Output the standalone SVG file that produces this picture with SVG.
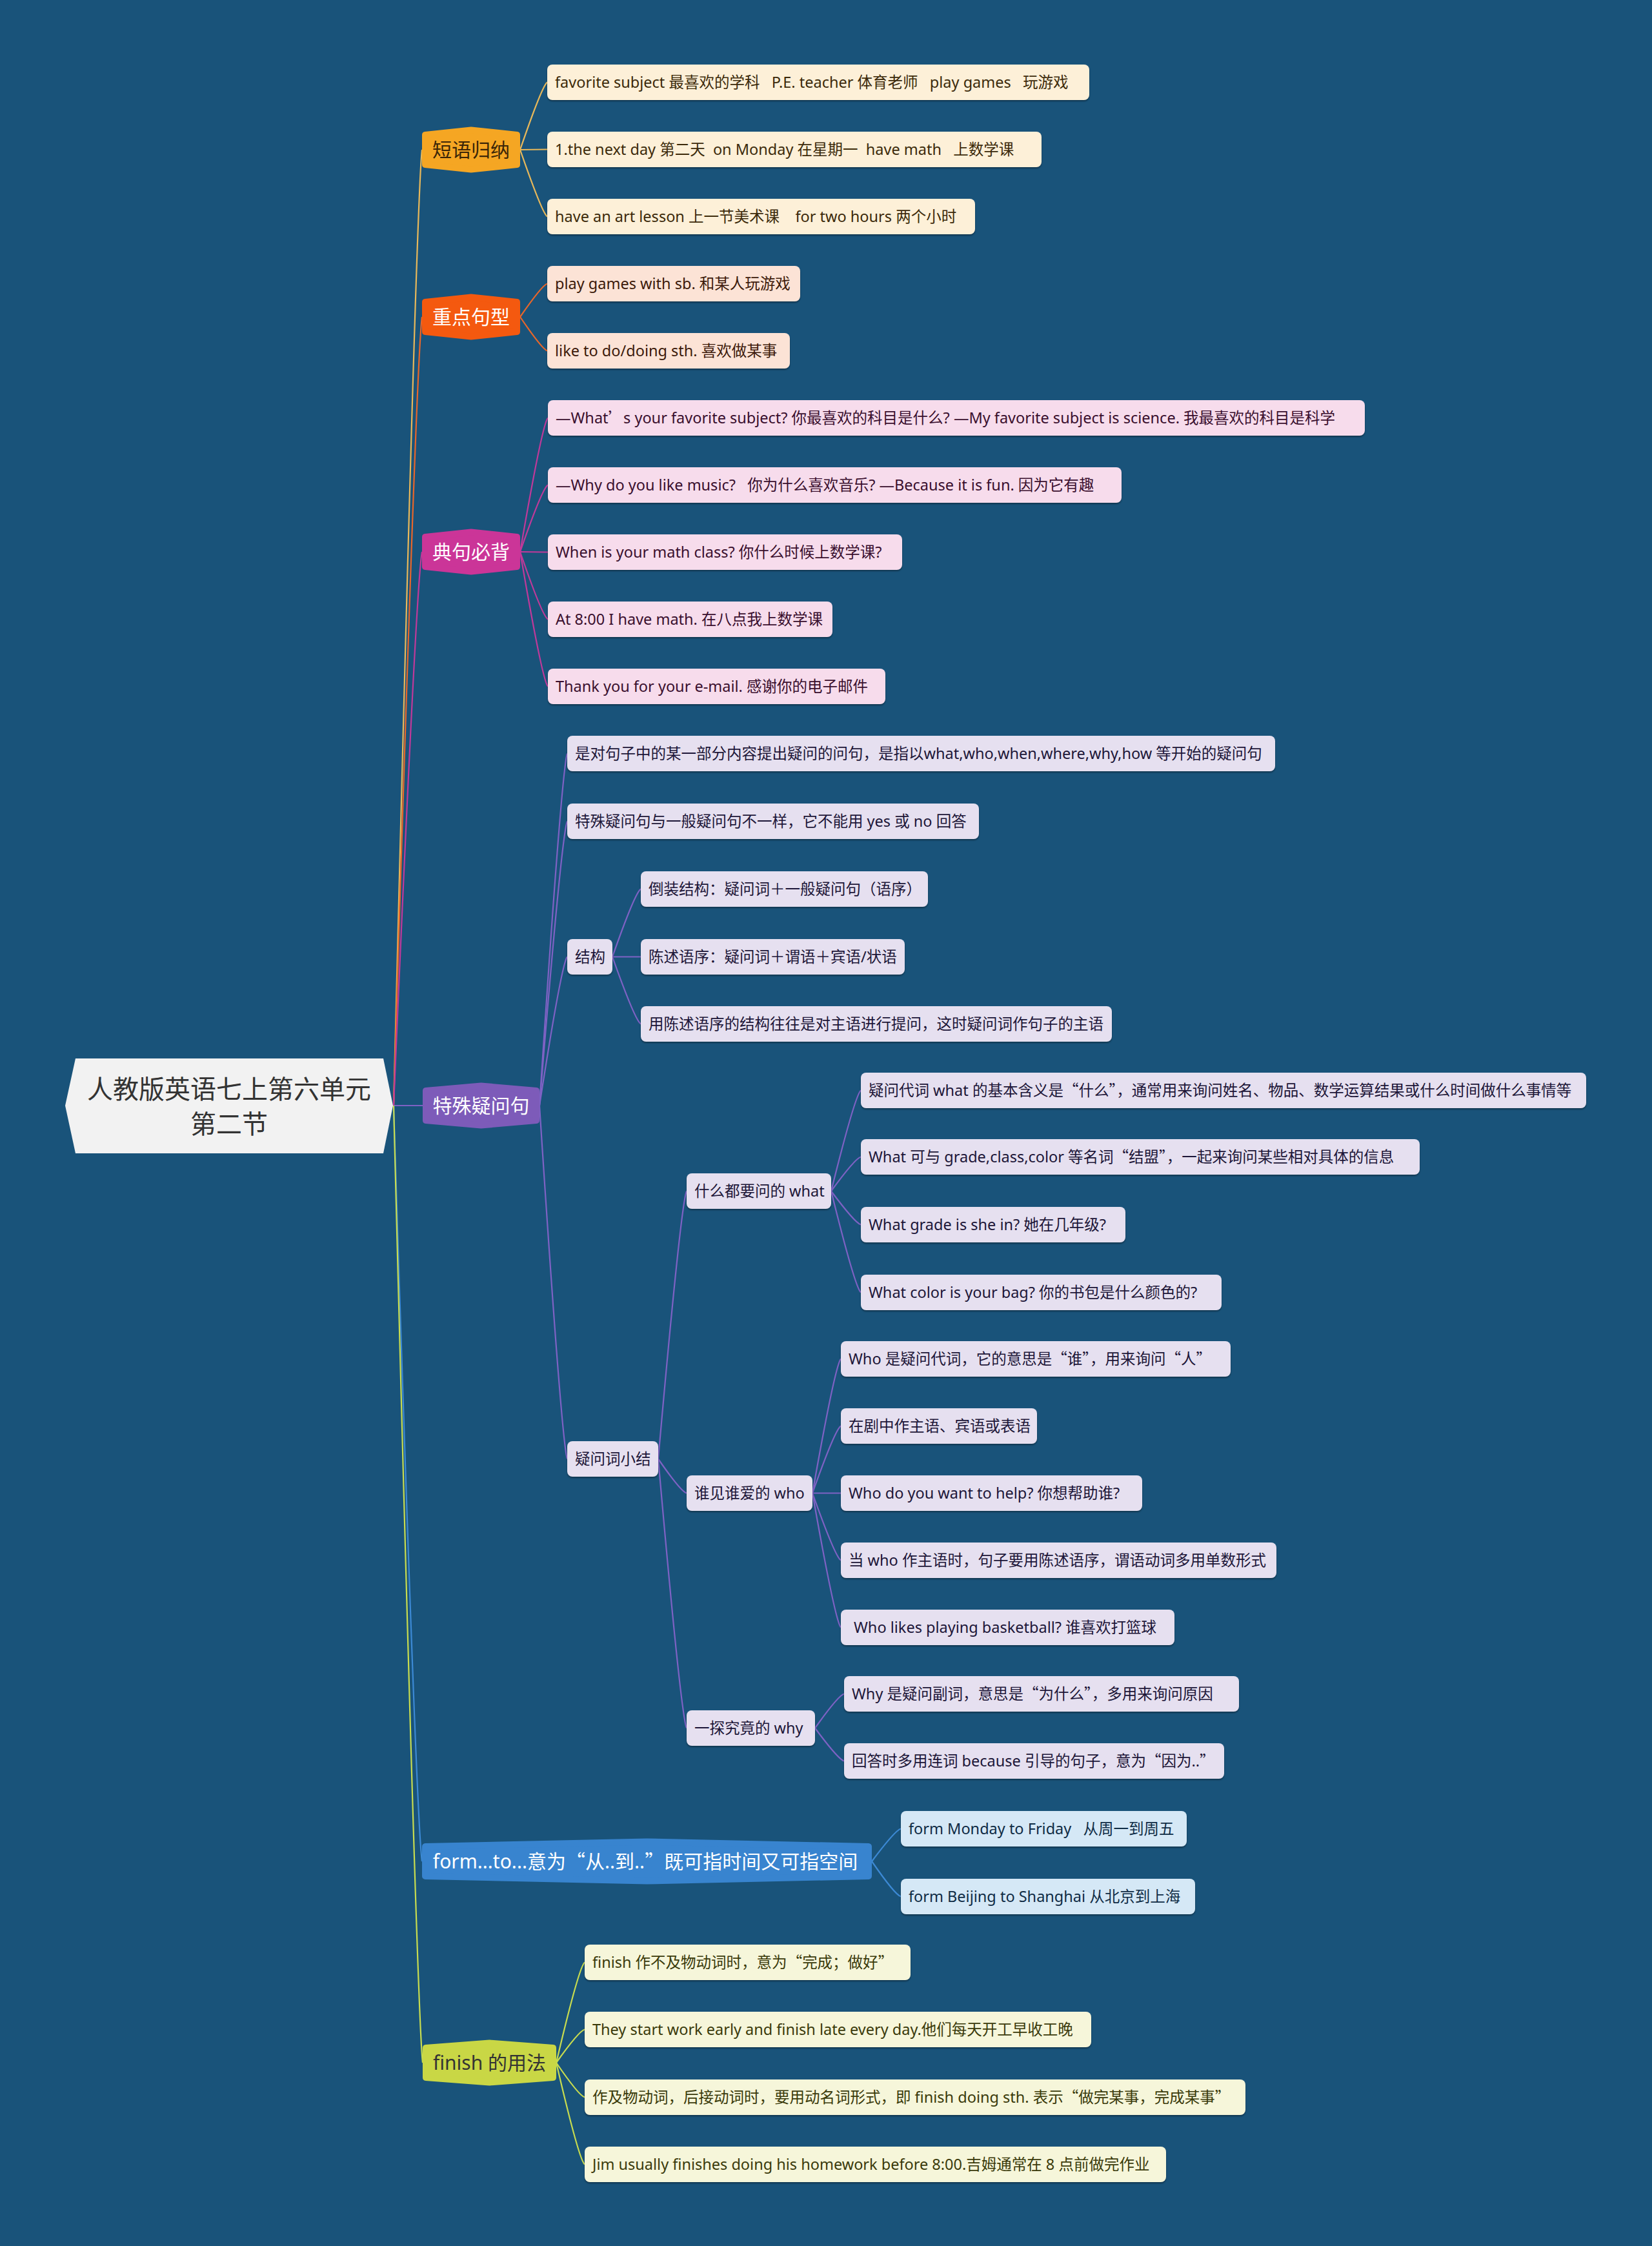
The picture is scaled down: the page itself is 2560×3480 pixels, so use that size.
<svg xmlns="http://www.w3.org/2000/svg" width="2560" height="3480" viewBox="0 0 2560 3480">
<style>
text{font-family:"Noto Sans","Noto Sans CJK SC",sans-serif;white-space:pre}
.q{font-family:"Noto Sans CJK SC",sans-serif}
.lf{font-size:23.5px}
.hx{font-size:30px;text-anchor:middle}
.bx{filter:drop-shadow(0 2px 1px rgba(0,0,0,0.35))}
.c path{fill:none;stroke-width:2.2}
.k1{stroke:#E8B85A}.k2{stroke:#E8662A}.k3{stroke:#C0399A}.k4{stroke:#7E62C4}.k5{stroke:#3C89D4}.k6{stroke:#C8DC4F}
.f1{fill:#FDF0D8}.f2{fill:#FCE3D6}.f3{fill:#F7DCEC}.f4{fill:#E6E0F0}.f5{fill:#D5E8F6}.f6{fill:#F6F6DA}
.t1{fill:#3c2a0a}.t2{fill:#3c1a0a}.t3{fill:#3a0f2e}.t4{fill:#1d1638}.t5{fill:#0f2c45}.t6{fill:#3a3a0a}
.h{stroke-width:10;stroke-linejoin:round}
</style>
<rect width="2560" height="3480" fill="#19537a"/>
<g id="connectors" class="c">
<path class="k1" d="M610,1713 Q645,306 654,232"/>
<path class="k2" d="M610,1713 Q645,552 654,491"/>
<path class="k3" d="M610,1713 Q645,898 654,855"/>
<path class="k4" d="M610,1713 L655,1713"/>
<path class="k5" d="M610,1713 Q645,2826 654,2884"/>
<path class="k6" d="M610,1713 Q646,3122 655,3196"/>
<path class="k1" d="M806,232 Q840,133 848,127.5"/>
<path class="k1" d="M806,232 L848,231.5"/>
<path class="k1" d="M806,232 Q840,330 848,335.5"/>
<path class="k2" d="M806,491 Q840,442 848,439.5"/>
<path class="k2" d="M806,491 Q840,541 848,543.5"/>
<path class="k3" d="M806,855 Q840,658 849,647.5"/>
<path class="k3" d="M806,855 Q840,757 849,751.5"/>
<path class="k3" d="M806,855 L849,855.5"/>
<path class="k3" d="M806,855 Q840,954 849,959.5"/>
<path class="k3" d="M806,855 Q840,1053 849,1063.5"/>
<path class="k4" d="M836,1713 Q870,1195 879,1167.5"/>
<path class="k4" d="M836,1713 Q870,1295 879,1272.5"/>
<path class="k4" d="M836,1713 Q870,1494 879,1482.5"/>
<path class="k4" d="M836,1713 Q870,2233 879,2260.5"/>
<path class="k4" d="M949,1482.5 Q984,1383 993,1377.5"/>
<path class="k4" d="M949,1482.5 L993,1482.5"/>
<path class="k4" d="M949,1482.5 Q984,1581 993,1586.5"/>
<path class="k4" d="M1020,2260.5 Q1055,1866 1064,1845.5"/>
<path class="k4" d="M1020,2260.5 Q1055,2311 1064,2313.5"/>
<path class="k4" d="M1020,2260.5 Q1055,2657 1064,2677.5"/>
<path class="k4" d="M1288,1845.5 Q1325,1697 1334,1689.5"/>
<path class="k4" d="M1288,1845.5 Q1325,1795 1334,1792.5"/>
<path class="k4" d="M1288,1845.5 Q1325,1895 1334,1897.5"/>
<path class="k4" d="M1288,1845.5 Q1325,1995 1334,2002.5"/>
<path class="k4" d="M1259,2313.5 Q1294,2116 1303,2105.5"/>
<path class="k4" d="M1259,2313.5 Q1294,2215 1303,2209.5"/>
<path class="k4" d="M1259,2313.5 L1303,2313.5"/>
<path class="k4" d="M1259,2313.5 Q1294,2412 1303,2417.5"/>
<path class="k4" d="M1259,2313.5 Q1294,2511 1303,2521.5"/>
<path class="k4" d="M1263,2677.5 Q1299,2627 1308,2624.5"/>
<path class="k4" d="M1263,2677.5 Q1299,2726 1308,2728.5"/>
<path class="k5" d="M1351,2884 Q1387,2836 1396,2833.5"/>
<path class="k5" d="M1351,2884 Q1387,2936 1396,2938.5"/>
<path class="k6" d="M862,3196 Q897,3048 906,3040.5"/>
<path class="k6" d="M862,3196 Q897,3147 906,3144.5"/>
<path class="k6" d="M862,3196 Q897,3247 906,3249.5"/>
<path class="k6" d="M862,3196 Q897,3346 906,3353.5"/>
</g>
<g id="root">
<path d="M117,1640 L594,1640 L609,1713 L594,1787 L117,1787 L101,1713 Z" fill="#F2F2F2"/>
<text x="355" y="1702" font-size="40" text-anchor="middle" fill="#333">人教版英语七上第六单元</text>
<text x="355" y="1756" font-size="40" text-anchor="middle" fill="#333">第二节</text>
</g>
<g id="b-duanyu">
<path class="h" d="M659,209 L730,201.5 L801,209 L801,255 L730,262.5 L659,255 Z" fill="#F5A623" stroke="#F5A623"/>
<text class="hx" x="730" y="242.5" fill="#3a2508">短语归纳</text>
</g>
<g id="b-zhongdian">
<path class="h" d="M659,468 L730,460.5 L801,468 L801,514 L730,521.5 L659,514 Z" fill="#F4590F" stroke="#F4590F"/>
<text class="hx" x="730" y="501.5" fill="#fff">重点句型</text>
</g>
<g id="b-dianju">
<path class="h" d="M659,832 L730,824.5 L801,832 L801,878 L730,885.5 L659,878 Z" fill="#CB3598" stroke="#CB3598"/>
<text class="hx" x="730" y="865.5" fill="#fff">典句必背</text>
</g>
<g id="b-teshu">
<path class="h" d="M660,1690 L745.5,1682.5 L831,1690 L831,1736 L745.5,1743.5 L660,1736 Z" fill="#7D5BB9" stroke="#7D5BB9"/>
<text class="hx" x="745.5" y="1723.5" fill="#fff">特殊疑问句</text>
</g>
<g id="b-form">
<path class="h" d="M659,2861 L1002.5,2853.5 L1346,2861 L1346,2907 L1002.5,2914.5 L659,2907 Z" fill="#3884CF" stroke="#3884CF"/>
<text class="hx" x="1000" y="2894.5" fill="#fff">form...to...意为<tspan class="q">“</tspan>从..到..<tspan class="q">”</tspan>既可指时间又可指空间</text>
</g>
<g id="b-finish">
<path class="h" d="M660,3173 L758.5,3165.5 L857,3173 L857,3219 L758.5,3226.5 L660,3219 Z" fill="#C9D745" stroke="#C9D745"/>
<text class="hx" x="758.5" y="3206.5" fill="#333">finish 的用法</text>
</g>
<g id="n1a"><rect class="bx f1" x="848" y="100" width="840" height="55" rx="8"/><text class="lf t1" x="860" y="136">favorite subject 最喜欢的学科   P.E. teacher 体育老师   play games   玩游戏</text></g>
<g id="n1b"><rect class="bx f1" x="848" y="204" width="766" height="55" rx="8"/><text class="lf t1" x="860" y="240">1.the next day 第二天  on Monday 在星期一  have math   上数学课</text></g>
<g id="n1c"><rect class="bx f1" x="848" y="308" width="663" height="55" rx="8"/><text class="lf t1" x="860" y="344">have an art lesson 上一节美术课    for two hours 两个小时</text></g>
<g id="n2a"><rect class="bx f2" x="848" y="412" width="392" height="55" rx="8"/><text class="lf t2" x="860" y="448">play games with sb. 和某人玩游戏</text></g>
<g id="n2b"><rect class="bx f2" x="848" y="516" width="376" height="55" rx="8"/><text class="lf t2" x="860" y="552">like to do/doing sth. 喜欢做某事</text></g>
<g id="n3a"><rect class="bx f3" x="849" y="620" width="1266" height="55" rx="8"/><text class="lf t3" x="861" y="656">—What<tspan class="q">’</tspan>s your favorite subject? 你最喜欢的科目是什么? —My favorite subject is science. 我最喜欢的科目是科学</text></g>
<g id="n3b"><rect class="bx f3" x="849" y="724" width="889" height="55" rx="8"/><text class="lf t3" x="861" y="760">—Why do you like music?   你为什么喜欢音乐? —Because it is fun. 因为它有趣</text></g>
<g id="n3c"><rect class="bx f3" x="849" y="828" width="549" height="55" rx="8"/><text class="lf t3" x="861" y="864">When is your math class? 你什么时候上数学课?</text></g>
<g id="n3d"><rect class="bx f3" x="849" y="932" width="441" height="55" rx="8"/><text class="lf t3" x="861" y="968">At 8:00 I have math. 在八点我上数学课</text></g>
<g id="n3e"><rect class="bx f3" x="849" y="1036" width="523" height="55" rx="8"/><text class="lf t3" x="861" y="1072">Thank you for your e-mail. 感谢你的电子邮件</text></g>
<g id="n4a"><rect class="bx f4" x="879" y="1140" width="1097" height="55" rx="8"/><text class="lf t4" x="891" y="1176">是对句子中的某一部分内容提出疑问的问句，是指以what,who,when,where,why,how 等开始的疑问句</text></g>
<g id="n4b"><rect class="bx f4" x="879" y="1245" width="638" height="55" rx="8"/><text class="lf t4" x="891" y="1281">特殊疑问句与一般疑问句不一样，它不能用 yes 或 no 回答</text></g>
<g id="n4c"><rect class="bx f4" x="879" y="1455" width="70" height="55" rx="8"/><text class="lf t4" x="891" y="1491">结构</text></g>
<g id="n4c1"><rect class="bx f4" x="993" y="1350" width="445" height="55" rx="8"/><text class="lf t4" x="1005" y="1386">倒装结构：疑问词＋一般疑问句（语序）</text></g>
<g id="n4c2"><rect class="bx f4" x="993" y="1455" width="409" height="55" rx="8"/><text class="lf t4" x="1005" y="1491">陈述语序：疑问词＋谓语＋宾语/状语</text></g>
<g id="n4c3"><rect class="bx f4" x="993" y="1559" width="730" height="55" rx="8"/><text class="lf t4" x="1005" y="1595">用陈述语序的结构往往是对主语进行提问，这时疑问词作句子的主语</text></g>
<g id="n4d"><rect class="bx f4" x="879" y="2233" width="141" height="55" rx="8"/><text class="lf t4" x="891" y="2269">疑问词小结</text></g>
<g id="n-what"><rect class="bx f4" x="1064" y="1818" width="224" height="55" rx="8"/><text class="lf t4" x="1076" y="1854">什么都要问的 what</text></g>
<g id="n-w1"><rect class="bx f4" x="1334" y="1662" width="1124" height="55" rx="8"/><text class="lf t4" x="1346" y="1698">疑问代词 what 的基本含义是<tspan class="q">“</tspan>什么<tspan class="q">”</tspan>，通常用来询问姓名、物品、数学运算结果或什么时间做什么事情等</text></g>
<g id="n-w2"><rect class="bx f4" x="1334" y="1765" width="866" height="55" rx="8"/><text class="lf t4" x="1346" y="1801">What 可与 grade,class,color 等名词<tspan class="q">“</tspan>结盟<tspan class="q">”</tspan>，一起来询问某些相对具体的信息</text></g>
<g id="n-w3"><rect class="bx f4" x="1334" y="1870" width="410" height="55" rx="8"/><text class="lf t4" x="1346" y="1906">What grade is she in? 她在几年级?</text></g>
<g id="n-w4"><rect class="bx f4" x="1334" y="1975" width="559" height="55" rx="8"/><text class="lf t4" x="1346" y="2011">What color is your bag? 你的书包是什么颜色的?</text></g>
<g id="n-who"><rect class="bx f4" x="1064" y="2286" width="195" height="55" rx="8"/><text class="lf t4" x="1076" y="2322">谁见谁爱的 who</text></g>
<g id="n-o1"><rect class="bx f4" x="1303" y="2078" width="604" height="55" rx="8"/><text class="lf t4" x="1315" y="2114">Who 是疑问代词，它的意思是<tspan class="q">“</tspan>谁<tspan class="q">”</tspan>，用来询问<tspan class="q">“</tspan>人<tspan class="q">”</tspan></text></g>
<g id="n-o2"><rect class="bx f4" x="1303" y="2182" width="304" height="55" rx="8"/><text class="lf t4" x="1315" y="2218">在剧中作主语、宾语或表语</text></g>
<g id="n-o3"><rect class="bx f4" x="1303" y="2286" width="467" height="55" rx="8"/><text class="lf t4" x="1315" y="2322">Who do you want to help? 你想帮助谁?</text></g>
<g id="n-o4"><rect class="bx f4" x="1303" y="2390" width="675" height="55" rx="8"/><text class="lf t4" x="1315" y="2426">当 who 作主语时，句子要用陈述语序，谓语动词多用单数形式</text></g>
<g id="n-o5"><rect class="bx f4" x="1303" y="2494" width="517" height="55" rx="8"/><text class="lf t4" x="1323" y="2530">Who likes playing basketball? 谁喜欢打篮球</text></g>
<g id="n-why"><rect class="bx f4" x="1064" y="2650" width="199" height="55" rx="8"/><text class="lf t4" x="1076" y="2686">一探究竟的 why</text></g>
<g id="n-y1"><rect class="bx f4" x="1308" y="2597" width="612" height="55" rx="8"/><text class="lf t4" x="1320" y="2633">Why 是疑问副词，意思是<tspan class="q">“</tspan>为什么<tspan class="q">”</tspan>，多用来询问原因</text></g>
<g id="n-y2"><rect class="bx f4" x="1308" y="2701" width="589" height="55" rx="8"/><text class="lf t4" x="1320" y="2737">回答时多用连词 because 引导的句子，意为<tspan class="q">“</tspan>因为..<tspan class="q">”</tspan></text></g>
<g id="n5a"><rect class="bx f5" x="1396" y="2806" width="443" height="55" rx="8"/><text class="lf t5" x="1408" y="2842">form Monday to Friday   从周一到周五</text></g>
<g id="n5b"><rect class="bx f5" x="1396" y="2911" width="456" height="55" rx="8"/><text class="lf t5" x="1408" y="2947">form Beijing to Shanghai 从北京到上海</text></g>
<g id="n6a"><rect class="bx f6" x="906" y="3013" width="505" height="55" rx="8"/><text class="lf t6" x="918" y="3049">finish 作不及物动词时，意为<tspan class="q">“</tspan>完成；做好<tspan class="q">”</tspan></text></g>
<g id="n6b"><rect class="bx f6" x="906" y="3117" width="785" height="55" rx="8"/><text class="lf t6" x="918" y="3153">They start work early and finish late every day.他们每天开工早收工晚</text></g>
<g id="n6c"><rect class="bx f6" x="906" y="3222" width="1024" height="55" rx="8"/><text class="lf t6" x="918" y="3258">作及物动词，后接动词时，要用动名词形式，即 finish doing sth. 表示<tspan class="q">“</tspan>做完某事，完成某事<tspan class="q">”</tspan></text></g>
<g id="n6d"><rect class="bx f6" x="906" y="3326" width="901" height="55" rx="8"/><text class="lf t6" x="918" y="3362">Jim usually finishes doing his homework before 8:00.吉姆通常在 8 点前做完作业</text></g>
</svg>
